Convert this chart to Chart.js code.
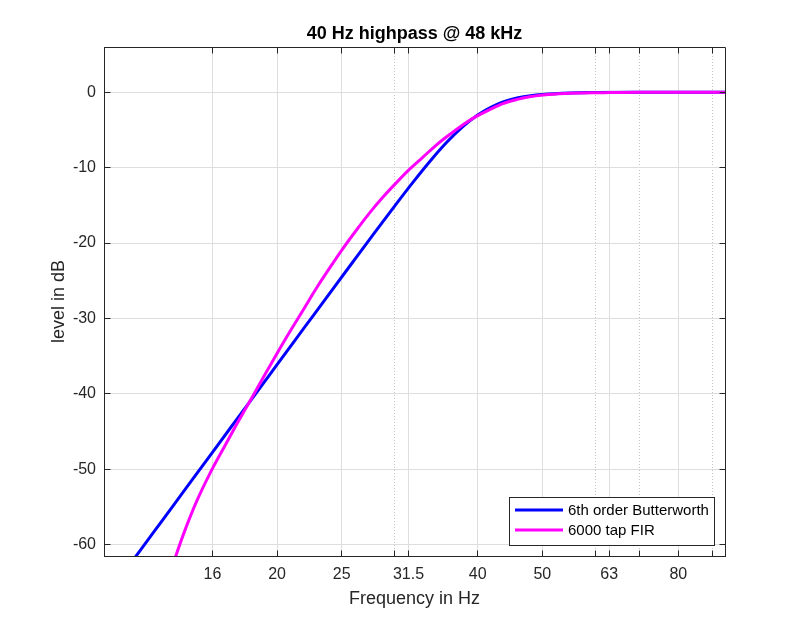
<!DOCTYPE html>
<html>
<head>
<meta charset="utf-8">
<script src="https://cdn.jsdelivr.net/npm/chart.js@4.4.1/dist/chart.umd.min.js"></script>
<style>
html, body { margin: 0; padding: 0; background: #ffffff; }
canvas { display: block; }
</style>
</head>
<body>
<canvas id="c" width="803" height="625"></canvas>
<script>
// ---- data ----
const seriesLabels = ['6th order Butterworth', '6000 tap FIR'];

const butterFreq  = [12.2, 13, 14, 15, 16, 17, 18, 19, 20, 22, 24, 26, 28, 30, 32, 34, 36, 38, 40, 42, 44, 46, 48, 50, 55, 60, 70, 80, 94];
const butterLevel = [-61.88, -58.58, -54.71, -51.12, -47.75, -44.59, -41.62, -38.80, -36.12, -31.16, -26.63, -22.48, -18.65, -15.13, -11.92, -9.05, -6.57, -4.55, -3.01, -1.92, -1.20, -0.74, -0.46, -0.29, -0.09, -0.03, -0.01, 0, 0];

const firFreq  = [13.80, 14.45, 15.14, 15.85, 16.60, 17.38, 18.20, 19.05, 19.95, 20.89, 21.88, 22.91, 23.99, 25.12, 26.30, 27.54, 28.84, 30.20, 31.62, 33.11, 34.67, 36.31, 38.02, 39.81, 41.69, 43.65, 45.71, 47.86, 50.12, 52.48, 54.95, 57.54, 60.26, 63.10, 70, 80, 94];
const firLevel = [-63.9, -58.8, -54.3, -50.6, -47.3, -44.1, -41.0, -37.9, -34.8, -31.8, -28.9, -26.0, -23.3, -20.7, -18.3, -16.0, -13.9, -12.0, -10.2, -8.6, -7.0, -5.6, -4.3, -3.2, -2.3, -1.5, -0.98, -0.60, -0.36, -0.22, -0.14, -0.09, -0.07, -0.05, 0, 0, 0];

const xTicks      = [16, 20, 25, 31.5, 40, 50, 63, 80];
const xTickLabels = ['16', '20', '25', '31.5', '40', '50', '63', '80'];
const xMinorTicks = [30, 60, 70, 90];
const yTicks      = [-60, -50, -40, -30, -20, -10, 0];
const yTickLabels = ['-60', '-50', '-40', '-30', '-20', '-10', '0'];

const titleText  = '40 Hz highpass @ 48 kHz';
const xTitleText = 'Frequency in Hz';
const yTitleText = 'level in dB';

// ---- styling ----
const FONT = '"Liberation Sans", Arial, Helvetica, sans-serif';
const AXIS = '#262626';
const GRID = '#dedede';
const MINOR_GRID = '#c4c4c4';
const colors = ['#0000ff', '#ff00ff'];

Chart.defaults.font.family = FONT;
Chart.defaults.color = AXIS;

const isMinor = (c) => c.tick && xMinorTicks.includes(c.tick.value);
const align = (p) => Math.round(p - 0.5) + 0.5;

const framePlugin = {
  id: 'frame',
  afterDatasetsDraw(chart) {
    const { ctx, chartArea: a, scales } = chart;
    const L = align(a.left), R = align(a.right), T = align(a.top), B = align(a.bottom);
    const tl = 6;
    ctx.save();
    ctx.strokeStyle = AXIS;
    ctx.lineWidth = 1;
    ctx.setLineDash([]);
    ctx.beginPath();
    ctx.rect(L, T, R - L, B - T);
    scales.x.ticks.forEach(t => {
      const px = align(scales.x.getPixelForValue(t.value));
      ctx.moveTo(px, B); ctx.lineTo(px, B - tl);
      ctx.moveTo(px, T); ctx.lineTo(px, T + tl);
    });
    scales.y.ticks.forEach(t => {
      const py = align(scales.y.getPixelForValue(t.value));
      ctx.moveTo(L, py); ctx.lineTo(L + tl, py);
      ctx.moveTo(R, py); ctx.lineTo(R - tl, py);
    });
    ctx.stroke();
    ctx.restore();
  }
};

const legendPlugin = {
  id: 'insideLegend',
  afterDraw(chart) {
    const { ctx, chartArea: a } = chart;
    const w = 205, h = 48;
    const x0 = Math.round(a.right - 11 - w), y0 = Math.round(a.bottom - 11 - h);
    ctx.save();
    ctx.fillStyle = '#ffffff';
    ctx.fillRect(x0, y0, w, h);
    ctx.strokeStyle = AXIS;
    ctx.lineWidth = 1;
    ctx.strokeRect(x0 + 0.5, y0 + 0.5, w, h);
    ctx.font = '15px ' + FONT;
    ctx.textBaseline = 'middle';
    ctx.textAlign = 'left';
    chart.data.datasets.forEach((ds, i) => {
      const yy = y0 + 13 + i * 20;
      ctx.strokeStyle = ds.borderColor;
      ctx.lineWidth = 3;
      ctx.beginPath();
      ctx.moveTo(x0 + 6, yy);
      ctx.lineTo(x0 + 54, yy);
      ctx.stroke();
      ctx.fillStyle = '#000000';
      ctx.fillText(ds.label, x0 + 59, yy + 1);
    });
    ctx.restore();
  }
};

new Chart(document.getElementById('c'), {
  type: 'line',
  data: {
    datasets: [
      {
        label: seriesLabels[0],
        data: butterFreq.map((f, i) => ({ x: f, y: butterLevel[i] })),
        borderColor: colors[0],
        backgroundColor: colors[0],
        borderWidth: 3,
        pointRadius: 0,
        cubicInterpolationMode: 'monotone',
        fill: false,
        clip: 0,
        order: 1
      },
      {
        label: seriesLabels[1],
        data: firFreq.map((f, i) => ({ x: f, y: firLevel[i] })),
        borderColor: colors[1],
        backgroundColor: colors[1],
        borderWidth: 3,
        pointRadius: 0,
        cubicInterpolationMode: 'monotone',
        fill: false,
        clip: 0,
        order: 0
      }
    ]
  },
  options: {
    responsive: false,
    animation: false,
    devicePixelRatio: 1,
    layout: { padding: { left: 0, right: 78, top: 0, bottom: 0 } },
    plugins: {
      legend: { display: false },
      tooltip: { enabled: false },
      title: {
        display: true,
        text: titleText,
        fullSize: false,
        color: '#000000',
        font: { size: 18, weight: 'bold', family: FONT },
        padding: { top: 23, bottom: 2.4 }
      }
    },
    scales: {
      x: {
        type: 'logarithmic',
        min: 11,
        max: 94,
        bounds: 'data',
        afterBuildTicks: (s) => {
          s.ticks = xTicks.concat(xMinorTicks).sort((a, b) => a - b).map(v => ({ value: v }));
        },
        afterFit: (s) => { s.height = 69; },
        ticks: {
          autoSkip: false,
          maxRotation: 0,
          minRotation: 0,
          padding: 9,
          color: AXIS,
          font: { size: 16 },
          callback: (v) => {
            const i = xTicks.indexOf(v);
            return i >= 0 ? xTickLabels[i] : '';
          }
        },
        grid: {
          drawTicks: false,
          color: (c) => isMinor(c) ? MINOR_GRID : GRID,
          lineWidth: 1
        },
        border: {
          display: true,
          color: AXIS,
          width: 1,
          dash: (c) => isMinor(c) ? [1, 2] : []
        },
        title: {
          display: true,
          text: xTitleText,
          color: AXIS,
          font: { size: 18 },
          padding: { top: 0, bottom: 15 }
        }
      },
      y: {
        type: 'linear',
        min: -61.5,
        max: 6,
        bounds: 'data',
        afterBuildTicks: (s) => { s.ticks = yTicks.map(v => ({ value: v })); },
        afterFit: (s) => { s.width = 104; },
        ticks: {
          padding: 8,
          color: AXIS,
          font: { size: 16 },
          callback: (v) => {
            const i = yTicks.indexOf(v);
            return i >= 0 ? yTickLabels[i] : '';
          }
        },
        grid: {
          drawTicks: false,
          color: GRID,
          lineWidth: 1
        },
        border: { display: true, color: AXIS, width: 1 },
        title: {
          display: true,
          text: yTitleText,
          color: AXIS,
          font: { size: 18 },
          padding: { top: 48, bottom: 0 }
        }
      }
    }
  },
  plugins: [framePlugin, legendPlugin]
});
</script>
</body>
</html>
